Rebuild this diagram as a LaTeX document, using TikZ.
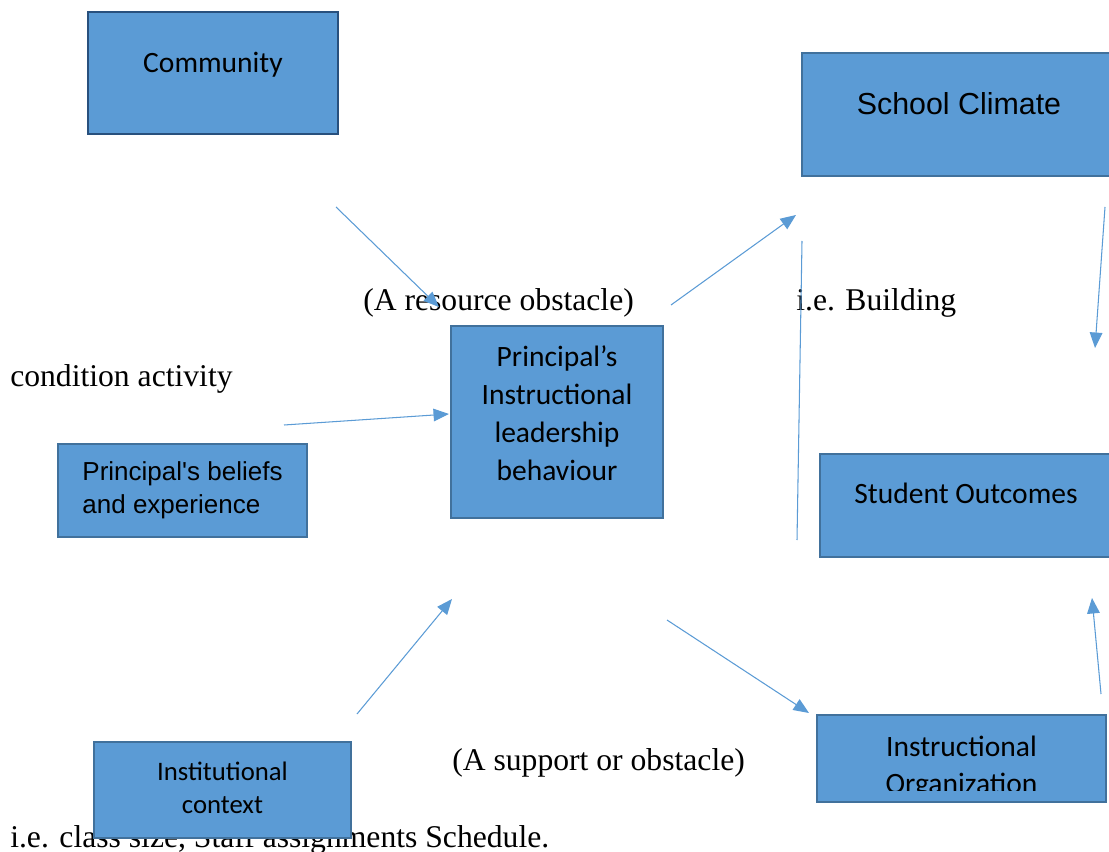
\documentclass[tikz,border=0pt]{standalone}
\usepackage{fontspec}
\setmainfont{Liberation Serif}
\newfontfamily\calibrifont{Carlito}
\newfontfamily\arialfont{Liberation Sans}
\usetikzlibrary{arrows.meta}

\definecolor{boxblue}{RGB}{91,155,213}
\definecolor{boxline}{RGB}{65,113,156}
\definecolor{commline}{RGB}{40,80,125}
\definecolor{arrowblue}{RGB}{91,155,213}

\tikzset{
  block/.style={draw=boxline, fill=boxblue, line width=1.4pt, inner sep=0pt, align=center},
  note/.style={font=\fontsize{22.5}{27}\selectfont, inner sep=0pt, anchor=base west},
  link/.style={draw=arrowblue, line width=0.75pt, -{Triangle[length=11pt,width=9pt]}},
}

\begin{document}
\begin{tikzpicture}[x=0.025cm, y=-0.025cm]
\useasboundingbox (0,0) rectangle (1109,852);

% texts around the boxes
\node[note] (resource) at (363,311) {(A resource obstacle)};
\node[note] (building) at (796,311) {i.e. Building};
\node[note] (condition) at (10,386) {condition activity};
\node[note] (support) at (452,770) {(A support or obstacle)};
\node[note] (classsize) at (10,847) {i.e. class size, Staff assignments Schedule.};

% boxes
\node[block, draw=commline,
    minimum width=6.25cm, minimum height=3.05cm,
    font=\calibrifont\fontsize{21}{26}\selectfont,
    text height=14pt, text depth=15.4pt] at (213,73) (community) {Community};

\node[block,
    minimum width=7.85cm, minimum height=3.075cm,
    font=\arialfont\fontsize{21.6}{26}\selectfont,
    text height=16pt, text depth=16.7pt] at (959,114.5) (climate) {School Climate};

\node[block,
    minimum width=5.3cm, minimum height=4.8cm,
    font=\calibrifont\fontsize{21}{26.8}\selectfont,
    text height=100pt, text depth=17.5pt] at (557,422) (leadership)
    {Principal’s\\Instructional\\leadership\\behaviour};

\node[block, align=left,
    minimum width=6.225cm, minimum height=2.325cm,
    font=\arialfont\fontsize{18.5}{24}\selectfont,
    text height=40pt, text depth=6.6pt] at (182.5,490.5) (beliefs)
    {Principal\textquotesingle s beliefs\\and experience};

\node[block,
    minimum width=7.3cm, minimum height=2.575cm,
    font=\calibrifont\fontsize{21}{26}\selectfont,
    text height=14pt, text depth=17.1pt] at (966,505.5) (outcomes) {Student Outcomes};

\node[block,
    minimum width=7.225cm, minimum height=2.175cm] at (961.5,758.5) (organization) {};
\begin{scope}
  \clip (organization.north west) rectangle (1106,790);
  \node[align=center, inner sep=0pt,
      font=\calibrifont\fontsize{21}{26.3}\selectfont,
      text height=50pt, text depth=0.9pt] at (organization.center) (orgtext)
      {Instructional\\Organization};
\end{scope}

\node[block,
    minimum width=6.425cm, minimum height=2.4cm,
    font=\calibrifont\fontsize{19}{24}\selectfont,
    text height=40pt, text depth=5.9pt] at (222.5,790) (institution)
    {Institutional\\context};

% arrow ends
\coordinate (comm-a) at (336,207);
\coordinate (comm-b) at (439,307);
\coordinate (lead-a) at (671,305);
\coordinate (lead-b) at (796,215);
\coordinate (up-a) at (797,540);
\coordinate (up-b) at (802,241);
\coordinate (clim-a) at (1105,207);
\coordinate (clim-b) at (1095,348);
\coordinate (bel-a) at (284,425);
\coordinate (bel-b) at (449,414);
\coordinate (inst-a) at (357,714);
\coordinate (inst-b) at (452,599);
\coordinate (down-a) at (667,620);
\coordinate (down-b) at (809,713);
\coordinate (org-a) at (1101,694);
\coordinate (org-b) at (1092,598);

\draw[link] (comm-a) -- (comm-b);
\draw[link] (lead-a) -- (lead-b);
\draw[link, -] (up-a) -- (up-b);
\draw[link] (clim-a) -- (clim-b);
\draw[link] (bel-a) -- (bel-b);
\draw[link] (inst-a) -- (inst-b);
\draw[link] (down-a) -- (down-b);
\draw[link] (org-a) -- (org-b);

\end{tikzpicture}
\end{document}
